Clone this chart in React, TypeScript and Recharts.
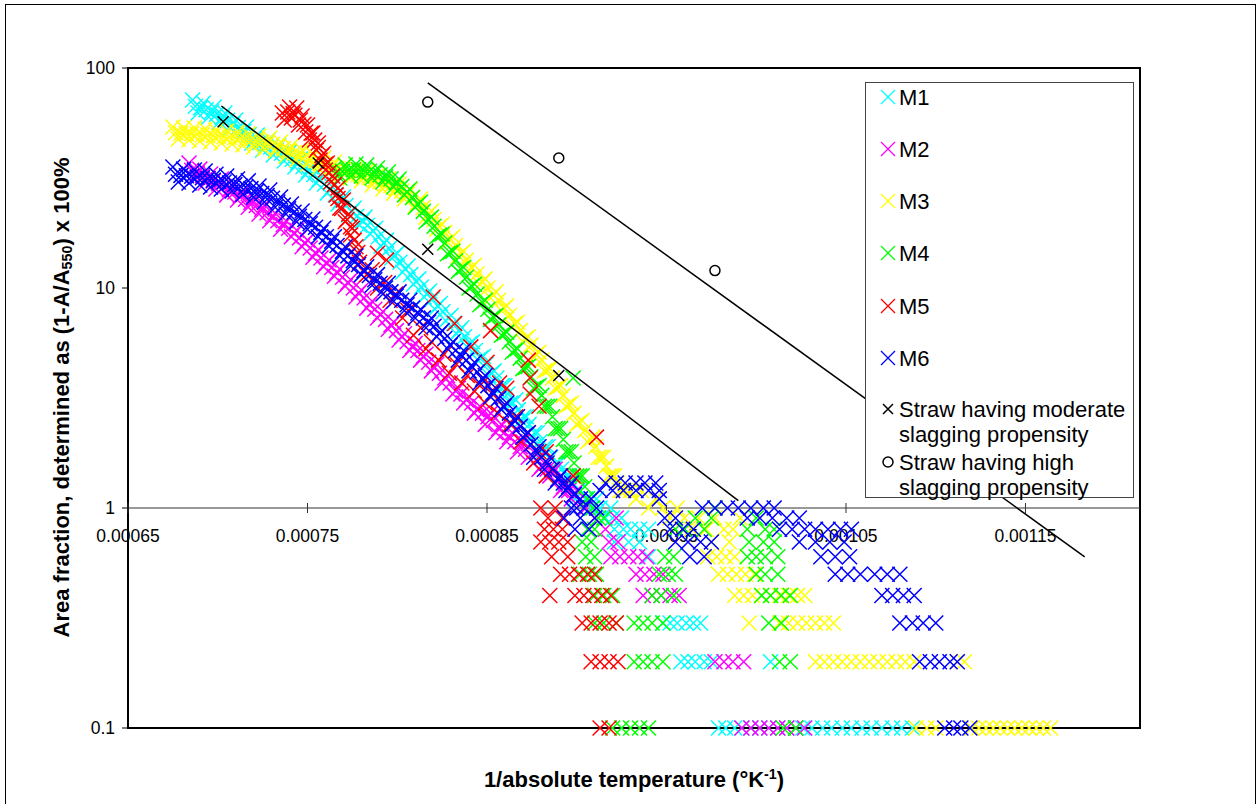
import React from "react";
import {
  ScatterChart,
  Scatter,
  XAxis,
  YAxis,
  ReferenceLine,
  ReferenceArea,
} from "recharts";

const FONT = "'Liberation Sans', Arial, Helvetica, sans-serif";

// axes
const xTicks = [0.00065, 0.00075, 0.00085, 0.00095, 0.00105, 0.00115];
const xTickLabels = ["0.00065", "0.00075", "0.00085", "0.00095", "0.00105", "0.00115"];
const yTicks = [0.1, 1, 10, 100];
const yTickLabels = ["0.1", "1", "10", "100"];
const xDomain = [0.00065, 0.0012138];
const yDomain = [0.1, 100];

// series data [1/T, area fraction %]
const m1 = [
  [0.000686, 71.5], [0.000689, 62.4], [0.000692, 69.3], [0.000695, 59.9], [0.000698, 66.5], [0.000701, 56.8],
  [0.000704, 62.4], [0.000707, 53.4], [0.00071, 58.0], [0.000713, 49.1], [0.000716, 53.9], [0.000719, 45.6],
  [0.000722, 49.6], [0.000725, 42.4], [0.000728, 47.1], [0.000731, 40.2], [0.000734, 44.2], [0.000737, 37.8],
  [0.00074, 41.5], [0.000743, 35.5], [0.000746, 38.6], [0.000749, 32.6], [0.000752, 35.5], [0.000755, 30.0],
  [0.000758, 32.3], [0.000761, 27.0], [0.000764, 28.8], [0.000767, 24.1], [0.00077, 25.9], [0.000773, 21.5],
  [0.000776, 23.1], [0.000779, 19.3], [0.000782, 21.0], [0.000785, 17.6], [0.000788, 18.7], [0.000791, 15.5],
  [0.000794, 16.5], [0.000797, 13.7], [0.0008, 14.4], [0.000803, 11.8], [0.000806, 12.6], [0.000809, 10.4],
  [0.000812, 11.0], [0.000815, 9.1], [0.000818, 9.7], [0.000821, 8.0], [0.000824, 8.5], [0.000827, 7.1],
  [0.00083, 7.5], [0.000833, 6.2], [0.000836, 6.6], [0.000839, 5.4], [0.000842, 5.7], [0.000845, 4.7],
  [0.000848, 4.9], [0.000851, 4.0], [0.000854, 4.2], [0.000857, 3.5], [0.00086, 3.6], [0.000863, 3.0],
  [0.000866, 3.1], [0.000869, 2.5], [0.000872, 2.6], [0.000875, 2.1], [0.000878, 2.2], [0.000881, 1.8],
  [0.000884, 1.9], [0.000887, 1.5], [0.00089, 1.6], [0.000893, 1.3], [0.000896, 1.4], [0.000899, 1.1],
  [0.000902, 1.2], [0.000905, 1.1], [0.000908, 1.0], [0.000911, 1.1], [0.000913, 1.0], [0.000916, 0.9],
  [0.000919, 1.0], [0.00092, 0.9], [0.000925, 0.9], [0.000921, 0.8], [0.000926, 0.8], [0.00093, 0.8],
  [0.000935, 0.8], [0.00094, 0.8], [0.000921, 0.7], [0.000929, 0.7], [0.000935, 0.7], [0.00094, 0.6],
  [0.000948, 0.3], [0.000952, 0.3], [0.000956, 0.3], [0.000961, 0.3], [0.000965, 0.3], [0.000969, 0.3],
  [0.000958, 0.2], [0.000962, 0.2], [0.000966, 0.2], [0.000971, 0.2], [0.000975, 0.2], [0.001008, 0.2],
  [0.000979, 0.1], [0.000983, 0.1], [0.000988, 0.1], [0.000992, 0.1], [0.000997, 0.1], [0.001002, 0.1],
  [0.001007, 0.1], [0.001012, 0.1], [0.001017, 0.1], [0.001022, 0.1], [0.001026, 0.1], [0.001031, 0.1],
  [0.001037, 0.1], [0.001042, 0.1], [0.001048, 0.1], [0.001053, 0.1], [0.001059, 0.1], [0.001064, 0.1],
  [0.00107, 0.1], [0.001076, 0.1], [0.001081, 0.1], [0.001087, 0.1],
];
const m1Mid = [
  [0.0006875, 67.0], [0.0006905, 65.9], [0.0006935, 64.6], [0.0006965, 63.2], [0.0006995, 61.7], [0.0007025, 59.6],
  [0.0007055, 57.9], [0.0007085, 55.7], [0.0007115, 53.6], [0.0007145, 51.5], [0.0007175, 49.8], [0.0007205, 47.6],
  [0.0007235, 46.0], [0.0007265, 44.8], [0.0007295, 43.7], [0.0007325, 42.2], [0.0007355, 41.0], [0.0007385, 39.7],
  [0.0007415, 38.5], [0.0007445, 37.1], [0.0007475, 35.6], [0.0007505, 34.1], [0.0007535, 32.8], [0.0007565, 31.2],
  [0.0007595, 29.7], [0.0007625, 27.9], [0.0007655, 26.5], [0.0007685, 25.0], [0.0007715, 23.7], [0.0007745, 22.3],
  [0.0007775, 21.2], [0.0007805, 20.2], [0.0007835, 19.3], [0.0007865, 18.2], [0.0007895, 17.1], [0.0007925, 16.0],
  [0.0007955, 15.1], [0.0007985, 14.1], [0.0008015, 13.1], [0.0008045, 12.2], [0.0008075, 11.5], [0.0008105, 10.7],
  [0.0008135, 10.1], [0.0008165, 9.4], [0.0008195, 8.9], [0.0008225, 8.3], [0.0008255, 7.8], [0.0008285, 7.3],
  [0.0008315, 6.9], [0.0008345, 6.4], [0.0008375, 6.0], [0.0008405, 5.6], [0.0008435, 5.2], [0.0008465, 4.8],
  [0.0008495, 4.5], [0.0008525, 4.1], [0.0008555, 3.9], [0.0008585, 3.6], [0.0008615, 3.3], [0.0008645, 3.0],
  [0.0008675, 2.8], [0.0008705, 2.6], [0.0008735, 2.4], [0.0008765, 2.2], [0.0008795, 2.0], [0.0008825, 1.9],
  [0.0008855, 1.7], [0.0008885, 1.6], [0.0008915, 1.5], [0.0008945, 1.4], [0.0008975, 1.3], [0.0009005, 1.2],
];

const m2 = [
  [0.000684, 37.0], [0.000687, 31.6], [0.00069, 34.7], [0.000693, 30.0], [0.000696, 33.0], [0.000699, 28.2],
  [0.000702, 31.3], [0.000705, 26.5], [0.000708, 29.4], [0.000711, 25.1], [0.000714, 27.3], [0.000717, 23.3],
  [0.00072, 25.6], [0.000723, 21.7], [0.000726, 23.8], [0.000729, 20.2], [0.000732, 21.9], [0.000735, 18.5],
  [0.000738, 20.2], [0.000741, 17.1], [0.000744, 18.3], [0.000747, 15.4], [0.00075, 16.5], [0.000753, 13.8],
  [0.000756, 14.9], [0.000759, 12.5], [0.000762, 13.4], [0.000765, 11.3], [0.000768, 12.2], [0.000771, 10.2],
  [0.000774, 10.9], [0.000777, 9.1], [0.00078, 9.8], [0.000783, 8.1], [0.000786, 8.7], [0.000789, 7.3],
  [0.000792, 7.8], [0.000795, 6.5], [0.000798, 7.0], [0.000801, 5.8], [0.000804, 6.2], [0.000807, 5.2],
  [0.00081, 5.6], [0.000813, 4.7], [0.000816, 5.0], [0.000819, 4.2], [0.000822, 4.5], [0.000825, 3.7],
  [0.000828, 4.0], [0.000831, 3.3], [0.000834, 3.5], [0.000837, 3.0], [0.00084, 3.2], [0.000843, 2.7],
  [0.000846, 2.9], [0.000849, 2.4], [0.000852, 2.7], [0.000855, 2.2], [0.000858, 2.4], [0.000861, 2.0],
  [0.000864, 2.2], [0.000867, 1.8], [0.00087, 2.0], [0.000873, 1.7], [0.000876, 1.8], [0.000879, 1.5],
  [0.000882, 1.6], [0.000885, 1.4], [0.000888, 1.5], [0.000891, 1.2], [0.000894, 1.3], [0.000897, 1.1],
  [0.0009, 1.2], [0.000905, 1.0], [0.00091, 0.9], [0.000916, 0.8], [0.000922, 0.9], [0.000918, 0.7],
  [0.000923, 0.7], [0.000919, 0.6], [0.000924, 0.6], [0.000929, 0.6], [0.000934, 0.6], [0.000939, 0.6],
  [0.000933, 0.5], [0.000938, 0.5], [0.000943, 0.5], [0.000948, 0.5], [0.000937, 0.4], [0.000942, 0.4],
  [0.000947, 0.4], [0.000952, 0.4], [0.000957, 0.4], [0.000977, 0.2], [0.000982, 0.2], [0.000987, 0.2],
  [0.000993, 0.2], [0.000992, 0.1], [0.000997, 0.1], [0.001002, 0.1], [0.001007, 0.1], [0.001012, 0.1],
  [0.001017, 0.1], [0.001022, 0.1], [0.001027, 0.1],
];
const m2Mid = [
  [0.0006855, 34.3], [0.0006885, 33.2], [0.0006915, 32.4], [0.0006945, 31.5], [0.0006975, 30.6], [0.0007005, 29.8],
  [0.0007035, 28.9], [0.0007065, 28.0], [0.0007095, 27.3], [0.0007125, 26.2], [0.0007155, 25.3], [0.0007185, 24.5],
  [0.0007215, 23.7], [0.0007245, 22.8], [0.0007275, 22.0], [0.0007305, 21.1], [0.0007335, 20.2], [0.0007365, 19.4],
  [0.0007395, 18.7], [0.0007425, 17.7], [0.0007455, 16.9], [0.0007485, 16.0], [0.0007515, 15.2], [0.0007545, 14.4],
  [0.0007575, 13.7], [0.0007605, 13.0], [0.0007635, 12.4], [0.0007665, 11.8], [0.0007695, 11.2], [0.0007725, 10.6],
  [0.0007755, 10.0], [0.0007785, 9.5], [0.0007815, 9.0], [0.0007845, 8.4], [0.0007875, 8.0], [0.0007905, 7.6],
  [0.0007935, 7.2], [0.0007965, 6.8], [0.0007995, 6.4], [0.0008025, 6.0], [0.0008055, 5.7], [0.0008085, 5.4],
  [0.0008115, 5.2], [0.0008145, 4.9], [0.0008175, 4.6], [0.0008205, 4.4], [0.0008235, 4.1], [0.0008265, 3.9],
  [0.0008295, 3.7], [0.0008325, 3.4], [0.0008355, 3.3], [0.0008385, 3.1], [0.0008415, 3.0], [0.0008445, 2.8],
  [0.0008475, 2.7], [0.0008505, 2.6], [0.0008535, 2.5], [0.0008565, 2.3], [0.0008595, 2.2], [0.0008625, 2.1],
  [0.0008655, 2.0], [0.0008685, 1.9], [0.0008715, 1.85], [0.0008745, 1.75], [0.0008775, 1.65], [0.0008805, 1.55],
  [0.0008835, 1.5], [0.0008865, 1.45], [0.0008895, 1.35], [0.0008925, 1.25], [0.0008955, 1.2], [0.0008985, 1.15],
];

const m3 = [
  [0.000675, 53.9], [0.000678, 47.6], [0.000681, 53.4], [0.000684, 47.1], [0.000687, 53.4], [0.00069, 46.6],
  [0.000693, 52.8], [0.000696, 46.1], [0.000699, 52.3], [0.000702, 45.6], [0.000705, 51.7], [0.000708, 45.1],
  [0.000711, 51.2], [0.000714, 44.7], [0.000717, 50.1], [0.00072, 43.7], [0.000723, 49.1], [0.000726, 42.8],
  [0.000729, 48.1], [0.000732, 41.9], [0.000735, 46.1], [0.000738, 39.8], [0.000741, 44.2], [0.000744, 38.2],
  [0.000747, 42.4], [0.00075, 36.6], [0.000753, 40.6], [0.000756, 35.1], [0.000759, 39.0], [0.000762, 33.7],
  [0.000765, 37.4], [0.000768, 32.6], [0.000771, 36.2], [0.000774, 31.6], [0.000777, 35.1], [0.00078, 30.7],
  [0.000783, 34.0], [0.000786, 29.4], [0.000789, 32.6], [0.000792, 28.2], [0.000795, 31.3], [0.000798, 27.0],
  [0.000801, 29.7], [0.000804, 25.4], [0.000807, 27.9], [0.00081, 23.6], [0.000813, 25.4], [0.000816, 21.0],
  [0.000819, 22.4], [0.000822, 18.5], [0.000825, 19.5], [0.000828, 16.2], [0.000831, 17.1], [0.000834, 14.0],
  [0.000837, 14.7], [0.00084, 12.1], [0.000843, 12.7], [0.000846, 10.4], [0.000849, 11.0], [0.000852, 9.0],
  [0.000855, 9.6], [0.000858, 7.9], [0.000861, 8.3], [0.000864, 6.7], [0.000867, 7.0], [0.00087, 5.7],
  [0.000873, 6.0], [0.000876, 4.9], [0.000879, 5.1], [0.000882, 4.2], [0.000885, 4.3], [0.000888, 3.5],
  [0.000891, 3.6], [0.000894, 2.9], [0.000897, 3.0], [0.0009, 2.4], [0.000903, 2.5], [0.000906, 2.0],
  [0.000909, 2.1], [0.000912, 1.7], [0.000915, 1.7], [0.000918, 1.4], [0.000921, 1.4], [0.000924, 1.2],
  [0.000927, 1.2], [0.00093, 1.2], [0.000933, 1.1], [0.000936, 1.2], [0.00094, 1.0], [0.000944, 1.1],
  [0.000948, 1.0], [0.000952, 0.9], [0.000956, 1.0], [0.00096, 0.9], [0.000964, 0.8], [0.000968, 0.9],
  [0.000972, 0.8], [0.000977, 0.9], [0.000982, 0.8], [0.000987, 0.8], [0.000991, 0.9], [0.000975, 0.7],
  [0.000985, 0.7], [0.000973, 0.6], [0.000978, 0.6], [0.000983, 0.6], [0.000988, 0.6], [0.000979, 0.5],
  [0.000984, 0.5], [0.000989, 0.5], [0.000994, 0.5], [0.000999, 0.5], [0.000988, 0.4], [0.000993, 0.4],
  [0.000998, 0.4], [0.001003, 0.4], [0.001008, 0.4], [0.001013, 0.4], [0.001018, 0.4], [0.001023, 0.4],
  [0.001027, 0.4], [0.000996, 0.3], [0.001013, 0.3], [0.001018, 0.3], [0.001023, 0.3], [0.001028, 0.3],
  [0.001033, 0.3], [0.001038, 0.3], [0.001043, 0.3], [0.001033, 0.2], [0.001038, 0.2], [0.001043, 0.2],
  [0.001048, 0.2], [0.001053, 0.2], [0.001058, 0.2], [0.001063, 0.2], [0.001068, 0.2], [0.001073, 0.2],
  [0.001078, 0.2], [0.001083, 0.2], [0.001088, 0.2], [0.001112, 0.2], [0.001116, 0.2], [0.001089, 0.1],
  [0.001095, 0.1], [0.0011, 0.1], [0.00112, 0.1], [0.001124, 0.1], [0.001128, 0.1], [0.001132, 0.1],
  [0.001136, 0.1], [0.00114, 0.1], [0.001144, 0.1], [0.001148, 0.1], [0.001152, 0.1], [0.001156, 0.1],
  [0.00116, 0.1], [0.001164, 0.1],
];
const m3Mid = [
  [0.0006765, 50.8], [0.0006795, 50.5], [0.0006825, 50.3], [0.0006855, 50.3], [0.0006885, 50.0], [0.0006915, 49.7],
  [0.0006945, 49.5], [0.0006975, 49.2], [0.0007005, 49.0], [0.0007035, 48.7], [0.0007065, 48.4], [0.0007095, 48.2],
  [0.0007125, 48.0], [0.0007155, 47.4], [0.0007185, 46.9], [0.0007215, 46.4], [0.0007245, 46.0], [0.0007275, 45.5],
  [0.0007305, 45.0], [0.0007335, 44.0], [0.0007365, 43.0], [0.0007395, 42.0], [0.0007425, 41.2], [0.0007455, 40.3],
  [0.0007485, 39.5], [0.0007515, 38.6], [0.0007545, 37.9], [0.0007575, 37.1], [0.0007605, 36.4], [0.0007635, 35.6],
  [0.0007665, 35.0], [0.0007695, 34.4], [0.0007725, 33.9], [0.0007755, 33.4], [0.0007785, 32.9], [0.0007815, 32.4],
  [0.0007845, 31.7], [0.0007875, 31.0], [0.0007905, 30.4], [0.0007935, 29.8], [0.0007965, 29.2], [0.0007995, 28.4],
  [0.0008025, 27.6], [0.0008055, 26.7], [0.0008085, 25.8], [0.0008115, 24.5], [0.0008145, 23.2], [0.0008175, 21.7],
  [0.0008205, 20.5], [0.0008235, 19.0], [0.0008265, 17.9], [0.0008295, 16.7], [0.0008325, 15.6], [0.0008355, 14.4],
  [0.0008385, 13.4], [0.0008415, 12.4], [0.0008445, 11.6], [0.0008475, 10.7], [0.0008505, 10.0], [0.0008535, 9.3],
  [0.0008565, 8.8], [0.0008595, 8.1], [0.0008625, 7.5], [0.0008655, 6.9], [0.0008685, 6.4], [0.0008715, 5.9],
  [0.0008745, 5.5], [0.0008775, 5.0], [0.0008805, 4.7], [0.0008835, 4.25], [0.0008865, 3.9], [0.0008895, 3.55],
  [0.0008925, 3.25], [0.0008955, 2.95], [0.0008985, 2.7], [0.0009015, 2.45], [0.0009045, 2.25], [0.0009075, 2.05],
  [0.0009105, 1.9], [0.0009135, 1.7], [0.0009165, 1.55], [0.0009195, 1.4], [0.0009225, 1.3], [0.0009255, 1.2],
];

const m4 = [
  [0.000765, 35.1], [0.000768, 31.6], [0.000771, 36.2], [0.000774, 32.3], [0.000777, 36.6], [0.00078, 32.3],
  [0.000783, 36.2], [0.000786, 31.6], [0.000789, 35.1], [0.000792, 30.3], [0.000795, 33.7], [0.000798, 28.8],
  [0.000801, 31.3], [0.000804, 26.5], [0.000807, 28.2], [0.00081, 23.3], [0.000813, 24.6], [0.000816, 20.0],
  [0.000819, 21.0], [0.000822, 17.1], [0.000825, 17.6], [0.000828, 14.3], [0.000831, 14.7], [0.000834, 11.9],
  [0.000837, 12.4], [0.00084, 10.0], [0.000843, 10.4], [0.000846, 8.4], [0.000849, 8.8], [0.000852, 7.2],
  [0.000855, 7.5], [0.000858, 6.1], [0.000861, 6.3], [0.000864, 5.1], [0.000867, 5.3], [0.00087, 4.3],
  [0.000873, 4.4], [0.000876, 3.5], [0.000879, 3.6], [0.000882, 2.9], [0.000885, 2.9], [0.000888, 2.3],
  [0.000891, 2.3], [0.000894, 1.8], [0.000897, 1.8], [0.0009, 1.4], [0.000903, 1.4], [0.000906, 1.1],
  [0.000898, 3.9], [0.000909, 1.0], [0.000912, 0.9], [0.000906, 0.8], [0.00091, 0.8], [0.000915, 0.9],
  [0.000903, 0.7], [0.000908, 0.7], [0.000905, 0.6], [0.00091, 0.6], [0.000902, 0.5], [0.000907, 0.5],
  [0.000911, 0.5], [0.00091, 0.4], [0.000915, 0.4], [0.00092, 0.4], [0.00091, 0.3], [0.000915, 0.3],
  [0.000922, 0.3], [0.000932, 0.3], [0.000937, 0.3], [0.000942, 0.3], [0.000948, 0.3], [0.000932, 0.2],
  [0.000937, 0.2], [0.000942, 0.2], [0.000948, 0.2], [0.00092, 0.1], [0.000925, 0.1], [0.00093, 0.1],
  [0.000935, 0.1], [0.00094, 0.1], [0.000942, 0.4], [0.000947, 0.4], [0.000954, 0.4], [0.000946, 0.5],
  [0.000951, 0.5], [0.000955, 0.5], [0.000949, 0.6], [0.000954, 0.6], [0.000955, 0.8], [0.00096, 0.8],
  [0.000966, 0.9], [0.000971, 0.8], [0.000977, 1.0], [0.000975, 0.9], [0.000995, 0.8], [0.001, 0.9],
  [0.001005, 0.8], [0.00101, 0.8], [0.000996, 0.7], [0.001004, 0.7], [0.00101, 0.7], [0.000995, 0.6],
  [0.001, 0.6], [0.001005, 0.6], [0.001012, 0.6], [0.001, 0.5], [0.001005, 0.5], [0.001012, 0.5],
  [0.001003, 0.4], [0.001008, 0.4], [0.001014, 0.4], [0.001019, 0.4], [0.001007, 0.3], [0.001014, 0.3],
  [0.001013, 0.2], [0.001019, 0.2], [0.001015, 0.1], [0.001022, 0.1],
];
const m4Mid = [
  [0.0007665, 33.4], [0.0007695, 33.9], [0.0007725, 34.3], [0.0007755, 34.5], [0.0007785, 34.5], [0.0007815, 34.3],
  [0.0007845, 33.9], [0.0007875, 33.4], [0.0007905, 32.7], [0.0007935, 32.0], [0.0007965, 31.3], [0.0007995, 30.1],
  [0.0008025, 28.9], [0.0008055, 27.4], [0.0008085, 25.8], [0.0008115, 24.0], [0.0008145, 22.3], [0.0008175, 20.5],
  [0.0008205, 19.1], [0.0008235, 17.4], [0.0008265, 16.0], [0.0008295, 14.5], [0.0008325, 13.3], [0.0008355, 12.2],
  [0.0008385, 11.2], [0.0008415, 10.2], [0.0008445, 9.4], [0.0008475, 8.6], [0.0008505, 8.0], [0.0008535, 7.4],
  [0.0008565, 6.8], [0.0008595, 6.2], [0.0008625, 5.7], [0.0008655, 5.2], [0.0008685, 4.8], [0.0008715, 4.35],
  [0.0008745, 3.95], [0.0008775, 3.55], [0.0008805, 3.25], [0.0008835, 2.9], [0.0008865, 2.6], [0.0008895, 2.3],
  [0.0008925, 2.05], [0.0008955, 1.8], [0.0008985, 1.6], [0.0009015, 1.4], [0.0009045, 1.25],
];

const m5 = [
  [0.000737, 58.0], [0.00074, 66.5], [0.000743, 61.0], [0.000739, 63.1], [0.000741, 59.3], [0.000744, 65.8],
  [0.000745, 55.1], [0.000747, 60.5], [0.000749, 51.2], [0.00075, 55.1], [0.000751, 47.1], [0.000753, 50.6],
  [0.000755, 42.4], [0.000756, 45.6], [0.000757, 38.2], [0.000759, 41.0], [0.00076, 34.4], [0.000761, 37.0],
  [0.000763, 30.3], [0.000764, 32.3], [0.000766, 26.5], [0.000767, 28.5], [0.000768, 23.1], [0.00077, 25.1],
  [0.000771, 20.0], [0.000773, 21.7], [0.000774, 17.4], [0.000775, 18.7], [0.000777, 15.4], [0.000779, 13.1],
  [0.000736, 62.5], [0.000742, 62.0], [0.000746, 58.0], [0.000748, 55.5], [0.000752, 50.5], [0.000754, 47.0],
  [0.000756, 43.5], [0.000758, 40.0], [0.00076, 36.5], [0.000762, 33.5], [0.000765, 29.5], [0.000767, 25.5],
  [0.000769, 23.0], [0.000772, 20.5], [0.000774, 19.0], [0.000776, 16.5], [0.000778, 14.5],
  [0.000783, 11.5], [0.000786, 12.1], [0.000789, 10.0], [0.000793, 10.6], [0.000796, 8.8], [0.000799, 9.4],
  [0.000803, 7.3], [0.000806, 7.9], [0.000809, 6.1], [0.000813, 6.6], [0.000816, 5.3], [0.000819, 5.7],
  [0.000823, 4.7], [0.000826, 5.0], [0.000829, 4.1], [0.000833, 4.5], [0.000836, 3.7], [0.000839, 4.0],
  [0.000843, 3.4], [0.000846, 3.6], [0.000849, 3.0], [0.000853, 3.3], [0.000856, 2.7], [0.000859, 2.9],
  [0.000863, 2.4], [0.000866, 2.6], [0.000869, 2.0], [0.000873, 2.2], [0.000876, 1.6], [0.000879, 1.8],
  [0.000883, 1.4], [0.000886, 1.5], [0.000789, 14.4], [0.000794, 13.4], [0.00082, 9.1], [0.000832, 6.9],
  [0.000841, 5.4], [0.000852, 6.4], [0.00085, 4.6], [0.000848, 3.9], [0.000857, 3.7], [0.000861, 3.5],
  [0.000873, 4.7], [0.000874, 3.9], [0.000874, 3.3], [0.000879, 2.9], [0.000883, 1.8], [0.000898, 1.4],
  [0.000911, 2.1], [0.00088, 1.0], [0.000884, 0.9], [0.000888, 1.0], [0.000892, 0.9], [0.000882, 0.8],
  [0.000887, 0.8], [0.000892, 0.8], [0.00088, 0.7], [0.000885, 0.7], [0.00089, 0.7], [0.000895, 0.7],
  [0.000886, 0.6], [0.000895, 0.6], [0.000891, 0.5], [0.000896, 0.5], [0.000901, 0.5], [0.000906, 0.5],
  [0.00091, 0.5], [0.000885, 0.4], [0.000899, 0.4], [0.000904, 0.4], [0.000909, 0.4], [0.000914, 0.4],
  [0.000919, 0.4], [0.000903, 0.3], [0.000908, 0.3], [0.000913, 0.3], [0.000918, 0.3], [0.000922, 0.3],
  [0.000908, 0.2], [0.000913, 0.2], [0.000918, 0.2], [0.000923, 0.2], [0.000913, 0.1], [0.000918, 0.1],
];

const m6 = [
  [0.000675, 35.5], [0.000678, 30.3], [0.000681, 34.7], [0.000684, 30.0], [0.000687, 34.4], [0.00069, 29.4],
  [0.000693, 34.0], [0.000696, 28.8], [0.000699, 32.9], [0.000702, 28.2], [0.000705, 32.3], [0.000708, 27.6],
  [0.000711, 31.3], [0.000714, 26.7], [0.000717, 30.7], [0.00072, 25.9], [0.000723, 29.1], [0.000726, 24.6],
  [0.000729, 27.9], [0.000732, 23.3], [0.000735, 25.9], [0.000738, 21.7], [0.000741, 24.1], [0.000744, 20.0],
  [0.000747, 22.4], [0.00075, 18.5], [0.000753, 20.6], [0.000756, 17.1], [0.000759, 18.7], [0.000762, 15.5],
  [0.000765, 17.1], [0.000768, 14.0], [0.000771, 15.4], [0.000774, 12.6], [0.000777, 14.0], [0.00078, 11.5],
  [0.000783, 12.5], [0.000786, 10.3], [0.000789, 11.5], [0.000792, 9.4], [0.000795, 10.5], [0.000798, 8.7],
  [0.000801, 9.6], [0.000804, 7.9], [0.000807, 8.8], [0.00081, 7.3], [0.000813, 8.0], [0.000816, 6.6],
  [0.000819, 7.3], [0.000822, 6.0], [0.000825, 6.4], [0.000828, 5.3], [0.000831, 5.7], [0.000834, 4.7],
  [0.000837, 5.2], [0.00084, 4.2], [0.000843, 4.6], [0.000846, 3.7], [0.000849, 4.0], [0.000852, 3.2],
  [0.000855, 3.5], [0.000858, 2.8], [0.000861, 3.0], [0.000864, 2.4], [0.000867, 2.6], [0.00087, 2.1],
  [0.000873, 2.2], [0.000876, 1.7], [0.000879, 1.9], [0.000882, 1.5], [0.000885, 1.7], [0.000888, 1.3],
  [0.000891, 1.4], [0.000894, 1.2], [0.000897, 1.3], [0.0009, 1.0], [0.000916, 1.3], [0.000922, 1.3],
  [0.000927, 1.3], [0.000933, 1.3], [0.000938, 1.3], [0.000944, 1.3], [0.000913, 1.2], [0.00092, 1.2],
  [0.000926, 1.2], [0.000933, 1.2], [0.00094, 1.2], [0.000946, 1.2], [0.000902, 1.1], [0.000908, 1.1],
  [0.000946, 1.1], [0.000897, 1.0], [0.000904, 1.0], [0.000911, 1.0], [0.000893, 0.9], [0.000902, 0.9],
  [0.00091, 0.9], [0.000899, 0.8], [0.000907, 0.8], [0.000949, 0.9], [0.000955, 0.9], [0.000952, 0.8],
  [0.000959, 0.8], [0.000965, 0.8], [0.000955, 0.7], [0.000962, 0.7], [0.000969, 0.7], [0.000975, 0.7],
  [0.000963, 0.6], [0.000971, 0.6], [0.00097, 1.0], [0.000977, 1.0], [0.000984, 1.0], [0.00099, 1.0],
  [0.000997, 1.0], [0.001004, 1.0], [0.00101, 1.0], [0.000995, 0.9], [0.001002, 0.9], [0.001009, 0.9],
  [0.001017, 0.9], [0.001024, 0.9], [0.001013, 0.8], [0.00102, 0.8], [0.001027, 0.8], [0.001033, 0.8],
  [0.00104, 0.8], [0.001047, 0.8], [0.001053, 0.8], [0.001024, 0.7], [0.001033, 0.7], [0.001041, 0.7],
  [0.001049, 0.7], [0.001036, 0.6], [0.001044, 0.6], [0.001052, 0.6], [0.001044, 0.5], [0.001051, 0.5],
  [0.001058, 0.5], [0.001066, 0.5], [0.001073, 0.5], [0.00108, 0.5], [0.00107, 0.4], [0.001076, 0.4],
  [0.001082, 0.4], [0.001088, 0.4], [0.00108, 0.3], [0.001087, 0.3], [0.001093, 0.3], [0.0011, 0.3],
  [0.001091, 0.2], [0.001097, 0.2], [0.001102, 0.2], [0.001108, 0.2], [0.001112, 0.2], [0.001105, 0.1],
  [0.00111, 0.1], [0.001114, 0.1], [0.001119, 0.1],
];
const m6Mid = [
  [0.0006765, 32.9], [0.0006795, 32.5], [0.0006825, 32.4], [0.0006855, 32.2], [0.0006885, 31.9], [0.0006915, 31.7],
  [0.0006945, 31.4], [0.0006975, 30.9], [0.0007005, 30.6], [0.0007035, 30.3], [0.0007065, 30.0], [0.0007095, 29.5],
  [0.0007125, 29.0], [0.0007155, 28.7], [0.0007185, 28.3], [0.0007215, 27.5], [0.0007245, 26.9], [0.0007275, 26.3],
  [0.0007305, 25.6], [0.0007335, 24.6], [0.0007365, 23.8], [0.0007395, 22.9], [0.0007425, 22.1], [0.0007455, 21.2],
  [0.0007485, 20.5], [0.0007515, 19.6], [0.0007545, 18.9], [0.0007575, 17.9], [0.0007605, 17.1], [0.0007635, 16.3],
  [0.0007665, 15.6], [0.0007695, 14.7], [0.0007725, 14.0], [0.0007755, 13.3], [0.0007785, 12.8], [0.0007815, 12.0],
  [0.0007845, 11.4], [0.0007875, 10.9], [0.0007905, 10.5], [0.0007935, 10.0], [0.0007965, 9.6], [0.0007995, 9.2],
  [0.0008025, 8.8], [0.0008055, 8.4], [0.0008085, 8.1], [0.0008115, 7.7], [0.0008145, 7.3], [0.0008175, 7.0],
  [0.0008205, 6.7], [0.0008235, 6.2], [0.0008265, 5.9], [0.0008295, 5.5], [0.0008325, 5.2], [0.0008355, 4.95],
  [0.0008385, 4.7], [0.0008415, 4.4], [0.0008445, 4.15], [0.0008475, 3.85], [0.0008505, 3.6], [0.0008535, 3.35],
  [0.0008565, 3.15], [0.0008595, 2.9], [0.0008625, 2.7], [0.0008655, 2.5], [0.0008685, 2.35], [0.0008715, 2.15],
  [0.0008745, 1.95], [0.0008775, 1.8], [0.0008805, 1.7], [0.0008835, 1.6], [0.0008865, 1.5], [0.0008895, 1.35],
  [0.0008925, 1.3], [0.0008955, 1.25], [0.0008985, 1.15],
];

const moderate = [[0.000703, 57], [0.000756, 37], [0.000817, 15], [0.00089, 4]];
const high = [[0.000817, 70], [0.00089, 39], [0.000977, 12]];
const moderateFit = [[0.000702, 67.2], [0.00099, 1.08]];
const highFit = [[0.000817, 85.5], [0.001183, 0.6]];

const toPts = (rows: number[][]) => rows.map(([x, y]) => ({ x, y }));

const series = [
  { name: "M1", color: "#00FFFF", rows: [...m1, ...m1Mid] },
  { name: "M2", color: "#FF00FF", rows: [...m2, ...m2Mid] },
  { name: "M3", color: "#FFFF00", rows: [...m3, ...m3Mid] },
  { name: "M4", color: "#00FF00", rows: [...m4, ...m4Mid] },
  { name: "M5", color: "#FF0000", rows: m5 },
  { name: "M6", color: "#0000FF", rows: [...m6, ...m6Mid] },
];

const xMark = (color: string, half: number, width: number) => (props: any) => {
  const { cx, cy } = props;
  if (cx == null || cy == null) return <g />;
  return (
    <path
      d={`M${cx - half},${cy - half}L${cx + half},${cy + half}M${cx - half},${cy + half}L${cx + half},${cy - half}`}
      stroke={color}
      strokeWidth={width}
      fill="none"
    />
  );
};

const circleMark = (props: any) => {
  const { cx, cy } = props;
  if (cx == null || cy == null) return <g />;
  return <circle cx={cx} cy={cy} r={5} stroke="#000" strokeWidth={1.5} fill="none" />;
};

const noMark = () => <g />;

// ticks of the x axis, which crosses the y axis at 1
const xTickMark = (props: any) => {
  const { cx, cy, payload } = props;
  if (cx == null || cy == null) return <g />;
  return (
    <g>
      <line x1={cx} x2={cx} y1={cy - 5} y2={cy + 5} stroke="#333" strokeWidth={1} />
      <text x={cx} y={cy + 34} textAnchor="middle" fontSize={17.5} fill="#000" fontFamily={FONT}>
        {payload.label}
      </text>
    </g>
  );
};

const LegendMark = ({ kind, color }: { kind: string; color: string }) => (
  <svg width={18} height={18} style={{ position: "absolute", left: 13, top: 0 }}>
    {kind === "circle" ? (
      <circle cx={9} cy={9} r={5} stroke="#000" strokeWidth={1.5} fill="none" />
    ) : kind === "small" ? (
      <path d="M4,4L14,14M4,14L14,4" stroke={color} strokeWidth={1.5} fill="none" />
    ) : (
      <path d="M2,2L16,16M2,16L16,2" stroke={color} strokeWidth={1.3} fill="none" />
    )}
  </svg>
);

const legendRows = [
  { lines: ["M1"], color: "#00FFFF", kind: "x", top: 5 },
  { lines: ["M2"], color: "#FF00FF", kind: "x", top: 57 },
  { lines: ["M3"], color: "#FFFF00", kind: "x", top: 109 },
  { lines: ["M4"], color: "#00FF00", kind: "x", top: 161 },
  { lines: ["M5"], color: "#FF0000", kind: "x", top: 214 },
  { lines: ["M6"], color: "#0000FF", kind: "x", top: 266 },
  { lines: ["Straw having moderate", "slagging propensity"], color: "#000", kind: "small", top: 317 },
  { lines: ["Straw having high", "slagging propensity"], color: "#000", kind: "circle", top: 370 },
];

const Legend = () => (
  <div
    style={{
      position: "absolute",
      left: 865,
      top: 82,
      width: 269,
      height: 416,
      border: "1px solid #444",
      background: "#fff",
      boxSizing: "border-box",
      fontFamily: FONT,
      fontSize: 22,
      color: "#000",
    }}
  >
    {legendRows.map((r) => (
      <div key={r.lines[0]} style={{ position: "absolute", left: 0, top: r.top, width: "100%" }}>
        <LegendMark kind={r.kind} color={r.color} />
        {r.lines.map((t, i) => (
          <div
            key={i}
            style={{ position: "absolute", left: 33, top: -3 + i * 25, lineHeight: "25px", whiteSpace: "nowrap" }}
          >
            {t}
          </div>
        ))}
      </div>
    ))}
  </div>
);

export default function App() {
  const xTickPts = xTicks.map((x, i) => ({ x, y: 1, label: xTickLabels[i] }));
  return (
    <div
      style={{
        position: "absolute",
        left: 0,
        top: 0,
        width: 1259,
        height: 804,
        background: "#fff",
        overflow: "hidden",
        fontFamily: FONT,
      }}
    >
      <div
        style={{
          position: "absolute",
          left: 5,
          top: 4,
          width: 1251,
          height: 820,
          border: "1.5px solid #000",
          boxSizing: "border-box",
        }}
      />
      <div style={{ position: "absolute", left: 0, top: 0 }}>
        <ScatterChart width={1259} height={804} margin={{ top: 68, right: 119, bottom: 76, left: 68 }}>
          <XAxis type="number" dataKey="x" domain={xDomain} hide />
          <YAxis
            type="number"
            dataKey="y"
            scale="log"
            domain={yDomain}
            ticks={yTicks}
            width={60}
            tickSize={6}
            tickMargin={7}
            tickFormatter={(v: number) => yTickLabels[yTicks.indexOf(v)] ?? String(v)}
            axisLine={{ stroke: "#000", strokeWidth: 2 }}
            tickLine={{ stroke: "#000" }}
            tick={{ fill: "#000", fontSize: 17.5, fontFamily: FONT }}
          />
          <ReferenceArea
            x1={xDomain[0]}
            x2={xDomain[1]}
            y1={yDomain[0]}
            y2={yDomain[1]}
            fill="none"
            fillOpacity={0}
            stroke="#000"
            strokeWidth={2}
          />
          <ReferenceLine y={1} stroke="#333" strokeWidth={1} />
          <Scatter data={xTickPts} shape={xTickMark} isAnimationActive={false} />
          {series.map((s) => (
            <Scatter
              key={s.name}
              name={s.name}
              data={toPts(s.rows)}
              shape={xMark(s.color, 7.5, 1.5)}
              isAnimationActive={false}
            />
          ))}
          <Scatter
            data={toPts(moderateFit)}
            line={{ stroke: "#000", strokeWidth: 1.5 }}
            shape={noMark}
            isAnimationActive={false}
          />
          <Scatter
            data={toPts(highFit)}
            line={{ stroke: "#000", strokeWidth: 1.5 }}
            shape={noMark}
            isAnimationActive={false}
          />
          <Scatter data={toPts(moderate)} shape={xMark("#000", 5.5, 1.5)} isAnimationActive={false} />
          <Scatter data={toPts(high)} shape={circleMark} isAnimationActive={false} />
        </ScatterChart>
      </div>
      <Legend />
      <div
        style={{
          position: "absolute",
          left: 134,
          top: 762,
          width: 1000,
          textAlign: "center",
          fontWeight: "bold",
          fontSize: 22,
          lineHeight: "25px",
          color: "#000",
        }}
      >
        1/absolute temperature (°K
        <span style={{ fontSize: "0.65em", verticalAlign: "0.55em" }}>-1</span>)
      </div>
      <div
        style={{
          position: "absolute",
          left: 61 - 300,
          top: 397 - 12.5,
          width: 600,
          height: 25,
          textAlign: "center",
          fontWeight: "bold",
          fontSize: 22,
          lineHeight: "25px",
          color: "#000",
          transform: "rotate(-90deg)",
          whiteSpace: "nowrap",
        }}
      >
        Area fraction, determined as (1-A/A
        <span style={{ fontSize: "0.65em", verticalAlign: "-0.25em" }}>550</span>) x 100%
      </div>
    </div>
  );
}
